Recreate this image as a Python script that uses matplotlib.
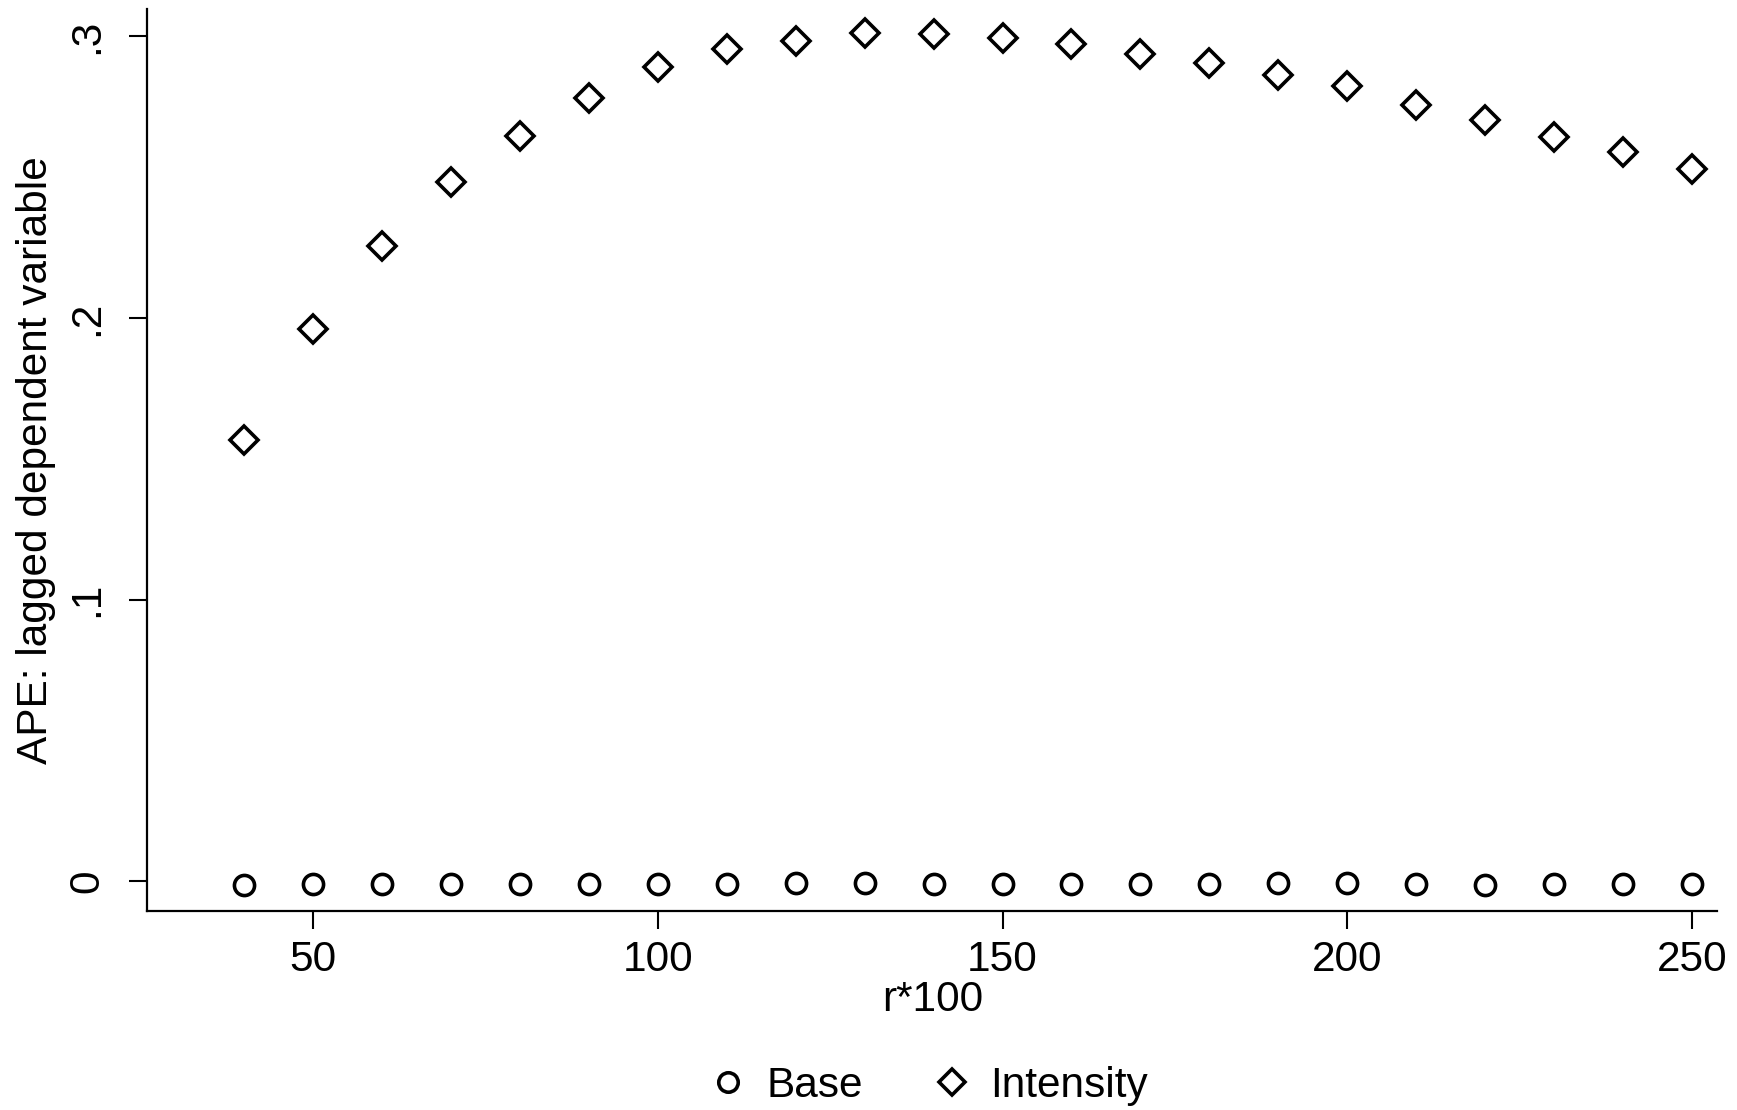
import numpy as np
import matplotlib
matplotlib.use('Agg')
import matplotlib.pyplot as plt
from matplotlib.lines import Line2D

plt.rcParams['font.family'] = ['Liberation Sans', 'DejaVu Sans']

#r*100 grid
r100 = [40, 50, 60, 70, 80, 90, 100, 110, 120, 130, 140,
        150, 160, 170, 180, 190, 200, 210, 220, 230, 240, 250]
#APE of lagged dependent variable, two models
ape_base = [-0.0012, -0.0008, -0.0008, -0.0009, -0.0010, -0.0009, -0.0008, -0.0009,
            -0.0007, -0.0005, -0.0009, -0.0010, -0.0009, -0.0010, -0.0009, -0.0005,
            -0.0006, -0.0010, -0.0011, -0.0009, -0.0008, -0.0008]
ape_intensity = [0.1567, 0.1961, 0.2256, 0.2484, 0.2646, 0.2780, 0.2890, 0.2957,
                 0.2984, 0.3012, 0.3008, 0.2996, 0.2972, 0.2937, 0.2906, 0.2862,
                 0.2823, 0.2756, 0.2705, 0.2642, 0.2591, 0.2531]
yticks = [0, 0.1, 0.2, 0.3]
ytick_labels = ['0', '.1', '.2', '.3']
xticks = [50, 100, 150, 200, 250]

fs = 30.5
fig = plt.figure(figsize=(17.37, 11.10), dpi=100)
ax = fig.add_axes([0.0848, 0.179, 0.9038, 0.813])

ax.plot(r100, ape_base, ls='none', marker='o', ms=14.5, mfc='none', mec='k', mew=2.6)
ax.plot(r100, ape_intensity, ls='none', marker='D', ms=14.5, mfc='none', mec='k', mew=2.6)

ax.set_xlim(25.9, 253.7)
ax.set_ylim(-0.0106, 0.3098)
ax.set_xticks(xticks)
ax.set_xticklabels([str(t) for t in xticks], fontsize=fs)
ax.set_yticks(yticks)
ax.set_yticklabels(ytick_labels, fontsize=fs, rotation=90, va='center')
ax.tick_params(direction='out', length=13, width=1.5, pad=8)
ax.tick_params(axis='y', pad=16)
for s in ['top', 'right']:
    ax.spines[s].set_visible(False)
for s in ['left', 'bottom']:
    ax.spines[s].set_linewidth(1.6)

ax.set_xlabel('r*100', fontsize=fs, labelpad=0)
ax.set_ylabel('APE: lagged dependent variable', fontsize=fs, labelpad=8)

handles = [Line2D([], [], ls='none', marker='o', ms=14, mfc='none', mec='k', mew=2.6),
           Line2D([], [], ls='none', marker='D', ms=13, mfc='none', mec='k', mew=2.6)]
fig.legend(handles, ['Base', 'Intensity'], loc='center', bbox_to_anchor=(0.534, 0.022),
           ncol=2, frameon=False, fontsize=fs, handletextpad=0.4, columnspacing=1.6,
           handlelength=1.0)

fig.savefig('out.png', dpi=100)
